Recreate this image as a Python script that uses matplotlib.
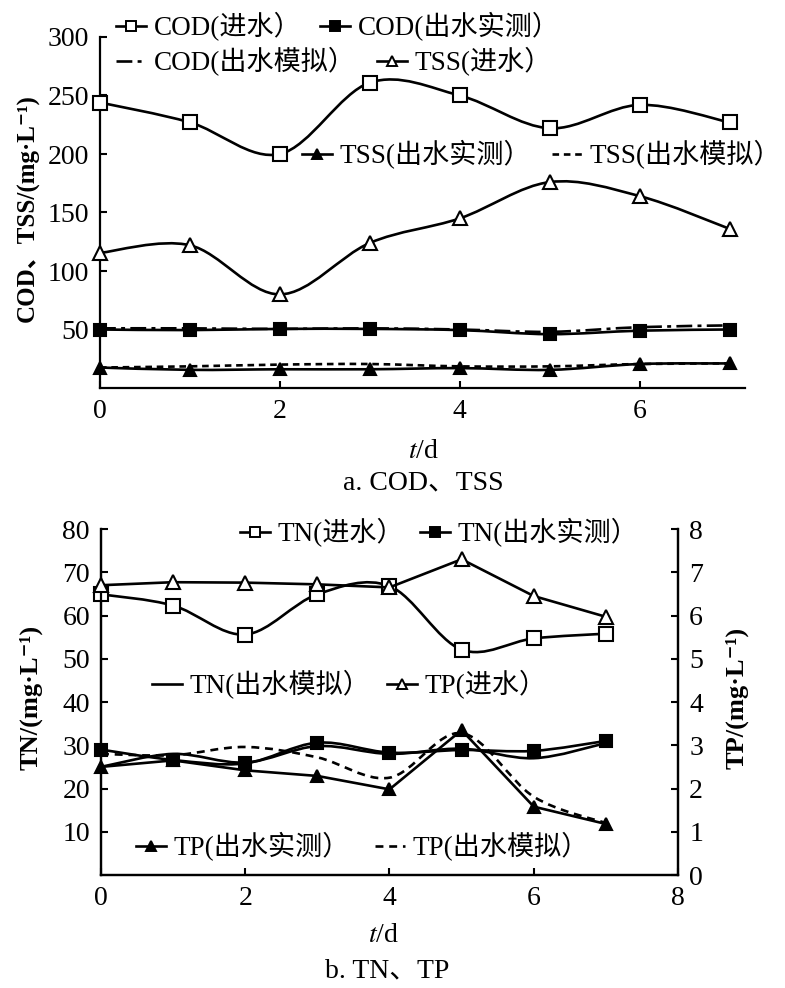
import numpy as np
import matplotlib.pyplot as plt
from matplotlib.path import Path
from matplotlib.patches import PathPatch
from matplotlib.lines import Line2D

plt.rcParams['font.family'] = ['Liberation Serif', 'Noto Sans CJK SC', 'DejaVu Serif']
plt.rcParams['mathtext.fontset'] = 'stix'

# ---- data ----
days = [0, 1, 2, 3, 4, 5, 6, 7]

cod_in = [244, 227, 200, 261, 250, 222, 242, 227]
cod_out = [50, 49.5, 50.5, 50.5, 49.5, 46, 49, 50]
cod_sim = [51, 51, 50.5, 51, 50, 48, 52, 53.5]
tss_in = [115.5, 122, 80, 124, 145, 176, 164, 136]
tss_out = [17.5, 15.5, 16, 16, 17, 15.5, 20.5, 21]
tss_sim = [17.5, 18.5, 20, 20.5, 18.5, 18.5, 20.5, 21]

tn_in = [64.9, 62.3, 55.6, 64.9, 66.8, 52.1, 54.7, 55.8]
tn_out = [29.0, 26.6, 25.8, 30.6, 28.3, 28.9, 28.7, 31.0]
tn_sim = [25.0, 28.0, 26.0, 29.8, 28.0, 29.2, 27.0, 30.5]
tp_in = [6.7, 6.77, 6.76, 6.72, 6.65, 7.3, 6.45, 5.97]
tp_out = [2.5, 2.65, 2.42, 2.29, 1.98, 3.35, 1.58, 1.18]
tp_sim = [2.8, 2.77, 2.96, 2.72, 2.25, 3.28, 1.81, 1.2]

W, H = 785, 988
LW = 1.9
FS_TICK = 20
FS_LEG = 19.5


def smooth(ax, x, y, ls='-'):
    # smooth curve through the points (cubic bezier, catmull-rom tangents)
    x = np.asarray(x, float)
    y = np.asarray(y, float)
    n = len(x)
    verts = [(x[0], y[0])]
    codes = [Path.MOVETO]
    for i in range(n - 1):
        i0 = max(i - 1, 0)
        i3 = min(i + 2, n - 1)
        c1 = (x[i] + (x[i + 1] - x[i0]) / 6, y[i] + (y[i + 1] - y[i0]) / 6)
        c2 = (x[i + 1] - (x[i3] - x[i]) / 6, y[i + 1] - (y[i3] - y[i]) / 6)
        verts += [c1, c2, (x[i + 1], y[i + 1])]
        codes += [Path.CURVE4] * 3
    ax.add_patch(PathPatch(Path(verts, codes), fill=False, edgecolor='k',
                           linewidth=LW, linestyle=ls, clip_on=False))


def marks(ax, x, y, marker, filled, ms):
    ax.plot(x, y, ls='none', marker=marker, ms=ms, mec='k', mew=1.5,
            mfc='k' if filled else 'white', clip_on=False, zorder=5)


def handle(marker=None, filled=False, ls='-', ms=7.5):
    return Line2D([], [], color='k', lw=LW, ls=ls, marker=marker, ms=ms,
                  mec='k', mew=1.4, mfc='k' if filled else 'white')


def put_legend(fig, h, label, x, y):
    fig.legend([h], [label], loc='center left',
               bbox_to_anchor=(x / W, 1 - y / H), frameon=False,
               borderpad=0, borderaxespad=0, handlelength=1.1,
               handletextpad=0.3, fontsize=FS_LEG)


def style(ax):
    for s in ax.spines.values():
        s.set_linewidth(1.6)
    ax.tick_params(direction='in', length=5, width=1.5, labelsize=FS_TICK, pad=8)


fig = plt.figure(figsize=(W / 100, H / 100), dpi=100)

# ---------------- a. COD, TSS ----------------
ax1 = fig.add_axes([100 / W, 1 - 388 / H, 645 / W, 351 / H])
smooth(ax1, days, cod_in)
smooth(ax1, days, tss_in)
smooth(ax1, days, cod_out)
smooth(ax1, days, cod_sim, ls=(0, (6, 2, 1.5, 2)))
smooth(ax1, days, tss_out)
smooth(ax1, days, tss_sim, ls=(0, (2.5, 1.8)))
marks(ax1, days, cod_in, 's', False, 10)
marks(ax1, days, tss_in, '^', False, 10)
marks(ax1, days, cod_out, 's', True, 9)
marks(ax1, days, tss_out, '^', True, 8)

ax1.set_xlim(0, 7.17)
ax1.set_ylim(0, 300)
ax1.set_xticks([0, 2, 4, 6])
ax1.set_yticks([50, 100, 150, 200, 250, 300])
ax1.spines['top'].set_visible(False)
ax1.spines['right'].set_visible(False)
style(ax1)

fig.text(28 / W, 1 - 208 / H, 'COD、TSS/(mg·L⁻¹)', rotation=90, ha='center',
         va='center', fontsize=18, fontweight='bold')
fig.text(424 / W, 1 - 452 / H, r'$t$/d', ha='center', va='center', fontsize=20)
fig.text(423 / W, 1 - 483 / H, 'a. COD、TSS', ha='center', va='center', fontsize=20)

put_legend(fig, handle('s'), 'COD(进水）', 116, 27)
put_legend(fig, handle('s', True), 'COD(出水实测）', 320, 27)
put_legend(fig, handle(ls=(0, (6, 2, 1.5, 2))), 'COD(出水模拟）', 116, 62)
put_legend(fig, handle('^'), 'TSS(进水）', 377, 62)
put_legend(fig, handle('^', True), 'TSS(出水实测）', 302, 155)
put_legend(fig, handle(ls=(0, (2.5, 1.8))), 'TSS(出水模拟）', 552, 155)

# ---------------- b. TN, TP ----------------
ax2 = fig.add_axes([101 / W, 1 - 875 / H, 577 / W, 346 / H])
ax3 = ax2.twinx()
smooth(ax2, days, tn_in)
smooth(ax2, days, tn_out)
smooth(ax2, days, tn_sim)
marks(ax2, days, tn_in, 's', False, 10)
marks(ax2, days, tn_out, 's', True, 9)
ax3.plot(days, tp_in, color='k', lw=LW, clip_on=False)
ax3.plot(days, tp_out, color='k', lw=LW, clip_on=False)
smooth(ax3, days, tp_sim, ls=(0, (3, 2.2)))
marks(ax3, days, tp_in, '^', False, 10)
marks(ax3, days, tp_out, '^', True, 8)

ax2.set_xlim(0, 8)
ax2.set_ylim(0, 80)
ax3.set_ylim(0, 8)
ax2.set_xticks([0, 2, 4, 6, 8])
ax2.set_yticks([10, 20, 30, 40, 50, 60, 70, 80])
ax3.set_yticks([0, 1, 2, 3, 4, 5, 6, 7, 8])
for a in (ax2, ax3):
    a.spines['top'].set_visible(False)
    style(a)

fig.text(31 / W, 1 - 697 / H, 'TN/(mg·L⁻¹)', rotation=90, ha='center',
         va='center', fontsize=19, fontweight='bold')
fig.text(737 / W, 1 - 698 / H, 'TP/(mg·L⁻¹)', rotation=90, ha='center',
         va='center', fontsize=19, fontweight='bold')
fig.text(384 / W, 1 - 935 / H, r'$t$/d', ha='center', va='center', fontsize=20)
fig.text(387 / W, 1 - 971 / H, 'b. TN、TP', ha='center', va='center', fontsize=20)

put_legend(fig, handle('s'), 'TN(进水）', 240, 533)
put_legend(fig, handle('s', True), 'TN(出水实测）', 420, 533)
put_legend(fig, handle(), 'TN(出水模拟）', 152, 685)
put_legend(fig, handle('^'), 'TP(进水）', 387, 685)
put_legend(fig, handle('^', True), 'TP(出水实测）', 136, 847)
put_legend(fig, handle(ls=(0, (3, 2.2))), 'TP(出水模拟）', 375, 847)

fig.savefig('out.png', dpi=100)
